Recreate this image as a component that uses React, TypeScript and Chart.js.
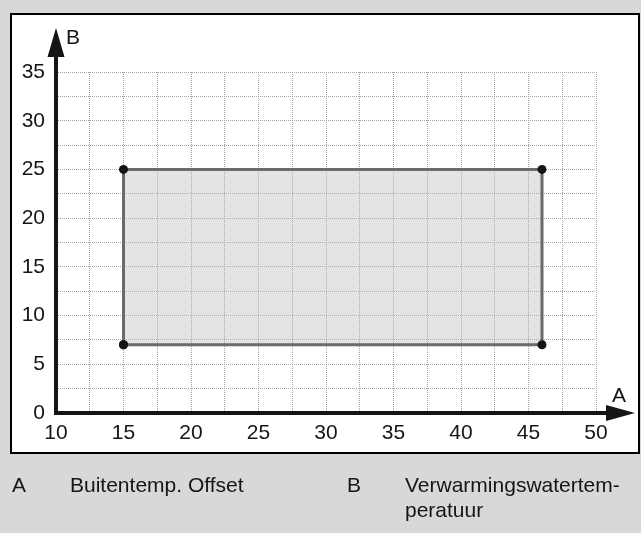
import React, { useEffect, useRef } from "react";
import { Chart, registerables } from "chart.js";

Chart.register(...registerables);

// ---- data ----
const xAxisName = "A";
const yAxisName = "B";
const xMin = 10;
const xMax = 50;
const yMin = 0;
const yMax = 35;
const gridStep = 2.5;
const labelStep = 5;
const regionX = [15, 15, 46, 46, 15];
const regionY = [7, 25, 25, 7, 7];
const legendKeys = ["A", "B"];
const legendTexts = ["Buitentemp. Offset", "Verwarmingswatertem-\nperatuur"];

const FONT = "Arial, 'Liberation Sans', sans-serif";
const INK = "#151515";

const framePlugin = {
  id: "frame",
  beforeDraw(chart: any) {
    const ctx = chart.ctx;
    ctx.save();
    ctx.fillStyle = "#d8d8d8";
    ctx.fillRect(0, 0, chart.width, chart.height);
    ctx.fillStyle = "#ffffff";
    ctx.fillRect(11, 14, 628, 439);
    ctx.strokeStyle = "#000000";
    ctx.lineWidth = 2;
    ctx.strokeRect(11, 14, 628, 439);
    ctx.restore();
  },
};

const axesPlugin = {
  id: "arrowAxes",
  afterDatasetsDraw(chart: any) {
    const ctx = chart.ctx;
    const xs = chart.scales.x;
    const ys = chart.scales.y;
    const x0 = xs.getPixelForValue(xMin);
    const y0 = ys.getPixelForValue(yMin);
    const area = chart.chartArea;
    ctx.save();
    ctx.strokeStyle = INK;
    ctx.fillStyle = INK;
    ctx.lineWidth = 4;
    ctx.beginPath();
    ctx.moveTo(x0 - 2, y0);
    ctx.lineTo(area.right + 12, y0);
    ctx.stroke();
    ctx.beginPath();
    ctx.moveTo(x0, y0 + 2);
    ctx.lineTo(x0, area.top - 15);
    ctx.stroke();
    // arrowheads
    ctx.beginPath();
    ctx.moveTo(area.right + 39, y0);
    ctx.lineTo(area.right + 10, y0 - 8);
    ctx.lineTo(area.right + 10, y0 + 8);
    ctx.closePath();
    ctx.fill();
    ctx.beginPath();
    ctx.moveTo(x0, area.top - 44);
    ctx.lineTo(x0 - 8.5, area.top - 15);
    ctx.lineTo(x0 + 8.5, area.top - 15);
    ctx.closePath();
    ctx.fill();
    // axis names
    ctx.font = `21px ${FONT}`;
    ctx.textAlign = "center";
    ctx.textBaseline = "middle";
    ctx.fillText(xAxisName, area.right + 23, y0 - 17);
    ctx.fillText(yAxisName, x0 + 17, area.top - 34);
    ctx.restore();
  },
};

export default function App() {
  const canvasRef = useRef<HTMLCanvasElement | null>(null);

  useEffect(() => {
    const canvas = canvasRef.current;
    if (!canvas) return;
    const points = regionX.map((x, i) => ({ x, y: regionY[i] }));
    const chart = new Chart(canvas, {
      type: "scatter",
      data: {
        datasets: [
          {
            data: points,
            showLine: true,
            fill: "shape",
            backgroundColor: "rgba(190,190,198,0.42)",
            borderColor: "#6a6a6a",
            borderWidth: 3,
            pointRadius: 4.5,
            pointBackgroundColor: INK,
            pointBorderColor: INK,
            pointBorderWidth: 0,
            tension: 0,
          } as any,
        ],
      },
      options: {
        animation: false,
        responsive: false,
        maintainAspectRatio: false,
        layout: { padding: { left: 0, top: 72, right: 45, bottom: 0 } },
        plugins: {
          legend: { display: false },
          tooltip: { enabled: false },
        },
        scales: {
          x: {
            type: "linear",
            min: xMin,
            max: xMax,
            afterFit(scale: any) {
              scale.height = 120;
            },
            ticks: {
              stepSize: gridStep,
              autoSkip: false,
              maxRotation: 0,
              padding: 8,
              color: INK,
              font: { family: FONT, size: 21 },
              callback: (v: any) => (Number(v) % labelStep === 0 ? String(v) : ""),
            },
            grid: { color: "#a2a2a2", lineWidth: 1, drawTicks: false },
            border: { display: false, dash: [1, 1] },
          },
          y: {
            type: "linear",
            min: yMin,
            max: yMax,
            afterFit(scale: any) {
              scale.width = 56;
            },
            ticks: {
              stepSize: gridStep,
              autoSkip: false,
              padding: 11,
              color: INK,
              font: { family: FONT, size: 21 },
              callback: (v: any) => (Number(v) % labelStep === 0 ? String(v) : ""),
            },
            grid: { color: "#a2a2a2", lineWidth: 1, drawTicks: false },
            border: { display: false, dash: [1, 1] },
          },
        },
      } as any,
      plugins: [framePlugin, axesPlugin],
    });
    return () => chart.destroy();
  }, []);

  const textStyle: React.CSSProperties = {
    position: "absolute",
    fontFamily: FONT,
    fontSize: 21,
    lineHeight: "25px",
    color: INK,
    whiteSpace: "pre",
  };

  return (
    <div style={{ position: "absolute", left: 0, top: 0, width: 641, height: 533 }}>
      <canvas ref={canvasRef} width={641} height={533} style={{ width: 641, height: 533, display: "block" }} />
      <div style={{ ...textStyle, left: 12, top: 472 }}>{legendKeys[0]}</div>
      <div style={{ ...textStyle, left: 70, top: 472 }}>{legendTexts[0]}</div>
      <div style={{ ...textStyle, left: 347, top: 472 }}>{legendKeys[1]}</div>
      <div style={{ ...textStyle, left: 405, top: 472 }}>{legendTexts[1]}</div>
    </div>
  );
}
